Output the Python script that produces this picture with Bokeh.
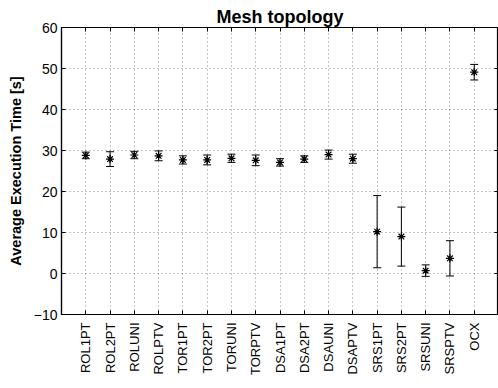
import math
from bokeh.plotting import figure
from bokeh.models import (ColumnDataSource, FixedTicker, LinearAxis, Range1d,
                          Whisker, TeeHead)
from bokeh.embed import file_html
from bokeh.resources import INLINE

categories = ["ROL1PT", "ROL2PT", "ROLUNI", "ROLPTV", "TOR1PT", "TOR2PT",
              "TORUNI", "TORPTV", "DSA1PT", "DSA2PT", "DSAUNI", "DSAPTV",
              "SRS1PT", "SRS2PT", "SRSUNI", "SRSPTV", "OCX"]
means = [28.8, 27.9, 28.9, 28.7, 27.7, 27.7, 28.1, 27.6, 27.1, 27.9, 29.0,
         28.0, 10.2, 9.0, 0.7, 3.7, 49.1]
errors = [0.8, 1.8, 0.9, 1.2, 1.0, 1.2, 1.0, 1.3, 0.9, 0.8, 1.1,
          1.1, 8.8, 7.2, 1.4, 4.3, 1.9]
y_ticks = [-10, 0, 10, 20, 30, 40, 50, 60]

xs = list(range(1, len(categories) + 1))
src = ColumnDataSource(dict(
    x=xs, y=means,
    upper=[m + e for m, e in zip(means, errors)],
    lower=[m - e for m, e in zip(means, errors)],
))

FONT = "Liberation Sans"

p = figure(frame_width=437, frame_height=287, output_backend="svg",
           toolbar_location=None,
           x_range=Range1d(0, len(categories) + 1),
           y_range=Range1d(y_ticks[0], y_ticks[-1]),
           min_border_left=61, min_border_top=27, min_border_right=0,
           min_border_bottom=0, title="Mesh topology")
p.background_fill_color = "white"
p.border_fill_color = "white"
p.outline_line_color = "black"
p.outline_line_width = 1.2

p.title.align = "center"
p.title.text_font = FONT
p.title.text_font_size = "18px"
p.title.text_font_style = "bold"
p.title.text_color = "black"
p.title.standoff = 1

xt = FixedTicker(ticks=xs)
yt = FixedTicker(ticks=y_ticks)

xa = p.xaxis[0]
xa.ticker = xt
xa.major_label_overrides = {x: c for x, c in zip(xs, categories)}
xa.major_label_orientation = math.pi / 2
ya = p.yaxis[0]
ya.ticker = yt
ya.major_label_overrides = {t: (str(t) if t >= 0 else "\u2212" + str(-t)) for t in y_ticks}
ya.axis_label = "Average Execution Time [s]"
ya.axis_label_text_font = FONT
ya.axis_label_text_font_size = "14.5px"
ya.axis_label_text_font_style = "bold"
ya.axis_label_text_color = "black"
ya.axis_label_standoff = 7

for ax in (xa, ya):
    ax.major_tick_in = 4
    ax.major_tick_out = 0
    ax.minor_tick_line_color = None
    ax.axis_line_color = "black"
    ax.axis_line_width = 1.2
    ax.major_tick_line_color = "black"
    ax.major_label_text_font = FONT
    ax.major_label_text_color = "black"
xa.major_label_text_font_size = "13px"
xa.major_label_standoff = 8
ya.major_label_text_font_size = "14px"
ya.major_label_standoff = 4

top = LinearAxis(ticker=xt, major_label_overrides={x: "" for x in xs})
right = LinearAxis(ticker=yt, major_label_overrides={t: "" for t in y_ticks})
for ax in (top, right):
    ax.major_tick_in = 4
    ax.major_tick_out = 0
    ax.minor_tick_line_color = None
    ax.axis_line_color = None
    ax.major_tick_line_color = "black"
    ax.major_label_text_font_size = "0px"
    ax.major_label_standoff = 0
p.add_layout(top, "above")
p.add_layout(right, "right")

p.xgrid.ticker = xt
p.ygrid.ticker = yt
for g in (p.xgrid, p.ygrid):
    g.grid_line_color = "#555555"
    g.grid_line_dash = "1 3"
    g.grid_line_width = 1
    g.grid_line_alpha = 0.7

w = Whisker(source=src, base="x", upper="upper", lower="lower",
            line_color="black", line_width=1,
            upper_head=TeeHead(size=8, line_color="black", line_width=1),
            lower_head=TeeHead(size=8, line_color="black", line_width=1))
p.add_layout(w)

p.scatter("x", "y", source=src, marker="asterisk", size=8,
          line_color="black", line_width=1.2)

open("out.html", "w").write(file_html(p, INLINE))
